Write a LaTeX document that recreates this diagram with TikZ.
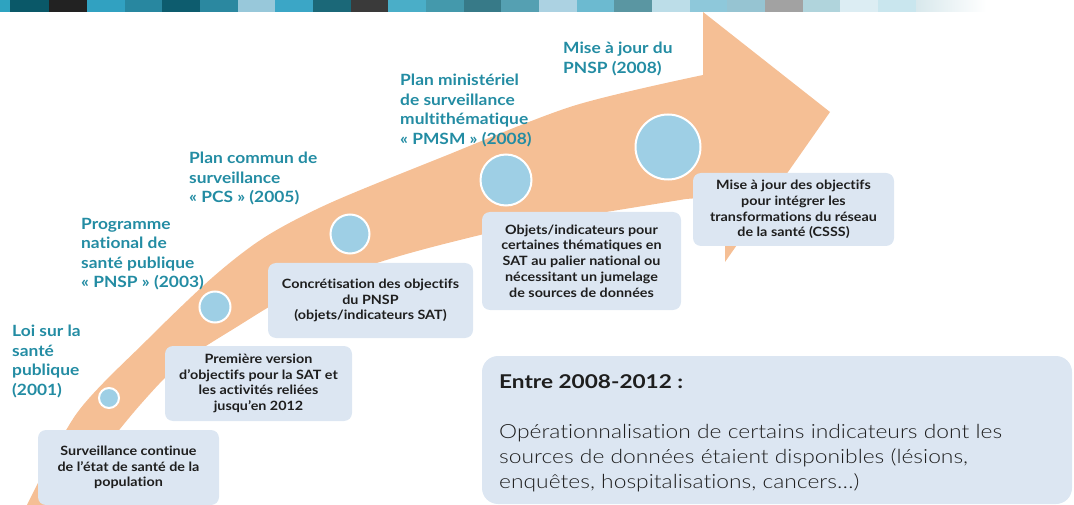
\documentclass[tikz,border=0pt]{standalone}
\usepackage{fontspec}
\setmainfont{Lato}[FakeStretch=1.12, Ligatures={TeX,CommonOff}]
\newfontfamily\lightfont{Lato Light}[FakeStretch=1.17, Ligatures={TeX,CommonOff}]
\newfontfamily\bigbold{Lato}[FakeStretch=1.19]
\definecolor{arrowc}{HTML}{F5BF95}
\definecolor{dotc}{HTML}{9ECFE5}
\definecolor{boxc}{HTML}{DCE6F2}
\definecolor{txt}{HTML}{1E1E1E}
\definecolor{ttlc}{HTML}{238CA3}
\definecolor{s1}{HTML}{2EA3C0}\definecolor{s2}{HTML}{0A5868}\definecolor{s3}{HTML}{222222}
\definecolor{s4}{HTML}{31A1C1}\definecolor{s5}{HTML}{2887A0}\definecolor{s6}{HTML}{0D5C6E}
\definecolor{s7}{HTML}{2B88A0}\definecolor{s8}{HTML}{98C8DA}\definecolor{s9}{HTML}{3BA6C6}
\definecolor{s10}{HTML}{1B6878}\definecolor{s11}{HTML}{3A3A3A}\definecolor{s12}{HTML}{4AAEC8}
\definecolor{s13}{HTML}{4499AC}\definecolor{s14}{HTML}{377A88}\definecolor{s15}{HTML}{55A0B2}
\definecolor{s16}{HTML}{ACD2E2}\definecolor{s17}{HTML}{6CBAD0}\definecolor{s18}{HTML}{5A96A2}
\definecolor{s19}{HTML}{BCDDE8}\definecolor{s20}{HTML}{8EC8DA}\definecolor{s21}{HTML}{96C4D2}
\definecolor{s22}{HTML}{A2A2A2}\definecolor{s23}{HTML}{B0D4DC}\definecolor{s24}{HTML}{DCEDF3}
\definecolor{s25}{HTML}{C9E6EE}\definecolor{s26}{HTML}{D8E8EC}
\begin{document}
\begin{tikzpicture}[x=1pt,y=-1pt,
  boxs/.style={fill=boxc, rounded corners=8pt, align=center, text=txt, inner sep=0pt,
    font=\bfseries\fontsize{12.8}{15.8}\selectfont},
  dot/.style={circle, fill=dotc, draw=white, line width=2pt, inner sep=0pt},
  ttl/.style={anchor=north west, align=left, inner sep=0pt, text=ttlc,
    font=\bfseries\fontsize{15.5}{19.5}\selectfont}]
\useasboundingbox (0,0) rectangle (1074,505);
% colour bar
\foreach \a/\b/\c in {0/10/s1,10/49/s2,49/87/s3,87/125/s4,125/162/s5,162/200/s6,200/238/s7,
  238/275/s8,275/313/s9,313/351/s10,351/388/s11,388/426/s12,426/464/s13,464/501/s14,
  501/539/s15,539/577/s16,577/614/s17,614/652/s18,652/690/s19,690/727/s20,727/765/s21,
  765/803/s22,803/840/s23,840/878/s24,878/916/s25}
  \fill[\c] (\a,0) rectangle (\b,12);
\shade[left color=s26, right color=white] (916,0) rectangle (986,12);
% arrow
\fill[arrowc] plot[smooth] coordinates {(27,505) (77,413) (147,340) (213,277) (265,237)
   (330,203) (440,158) (573,106) (703,75)}
  -- (703,12) -- (830,112) -- (725,262) -- (725,196)
  -- plot[smooth] coordinates {(686,199) (600,213) (520,226) (440,245) (380,262) (300,290)
   (235,328) (180,364) (140,405) (95,460) (60,505)} -- cycle;
% dots
\node[dot, minimum size=20pt] (c1) at (109,398) {};
\node[dot, minimum size=31pt] (c2) at (215,307) {};
\node[dot, minimum size=39pt] (c3) at (350,234) {};
\node[dot, minimum size=51pt] (c4) at (506,180) {};
\node[dot, minimum size=65pt] (c5) at (668,147) {};
% titles
\node[ttl] (t1) at (12,325) {Loi sur la\\santé\\publique\\(2001)};
\node[ttl] (t2) at (81,218) {Programme\\national de\\santé publique\\«~PNSP~» (2003)};
\node[ttl] (t3) at (189,152) {Plan commun de\\surveillance\\«~PCS~» (2005)};
\node[ttl] (t4) at (400,74) {Plan ministériel\\de surveillance\\multithématique\\«~PMSM~» (2008)};
\node[ttl] (t5) at (563,42) {Mise à jour du\\PNSP (2008)};
% boxes
\node[boxs, minimum width=181pt, minimum height=75pt] (b1) at (128.5,467.5)
  {Surveillance continue\\de l'état de santé de la\\population};
\node[boxs, minimum width=187pt, minimum height=75pt] (b2) at (258.5,383.5)
  {Première version\\d'objectifs pour la SAT et\\les activités reliées\\jusqu'en 2012};
\node[boxs, minimum width=205pt, minimum height=75pt] (b3) at (370.5,300.5)
  {Concrétisation des objectifs\\du PNSP\\(objets/indicateurs SAT)};
\node[boxs, minimum width=199pt, minimum height=98pt] (b4) at (581.5,261)
  {Objets/indicateurs pour\\certaines thématiques en\\SAT au palier national ou\\nécessitant un jumelage\\de sources de données};
\node[boxs, minimum width=201pt, minimum height=73pt] (b5) at (793.5,209.5)
  {Mise à jour des objectifs\\pour intégrer les\\transformations du réseau\\de la santé (CSSS)};
% big box
\node[fill=boxc, rounded corners=16pt, minimum width=590pt, minimum height=148pt, inner sep=0pt] (big) at (777,430) {};
\node[anchor=west, inner sep=0pt, text=txt, font=\bigbold\bfseries\fontsize{19}{22}\selectfont] (bt) at (499,382) {Entre 2008-2012 :};
\node[anchor=north west, align=left, inner sep=0pt, text=txt, font=\lightfont\fontsize{19.5}{25}\selectfont] (bd) at (499,424)
  {Opérationnalisation de certains indicateurs dont les\\sources de données étaient disponibles (lésions,\\enquêtes, hospitalisations, cancers…)};
\end{tikzpicture}
\end{document}
